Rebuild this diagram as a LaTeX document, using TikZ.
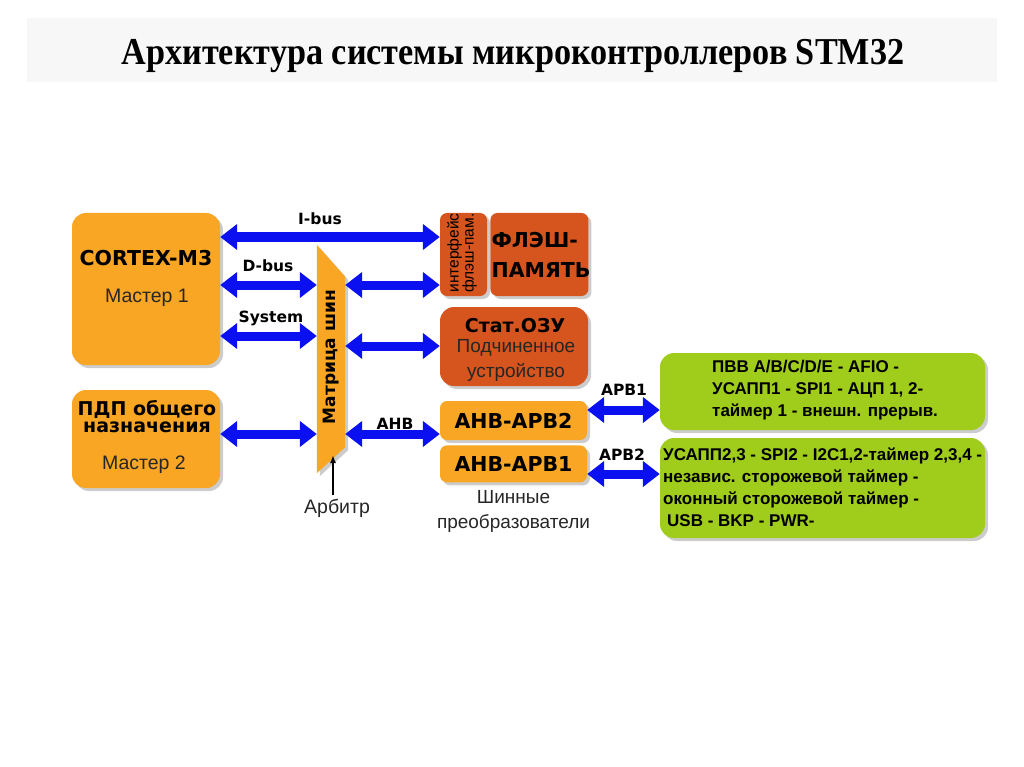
\documentclass[tikz,border=0pt]{standalone}
\usepackage{fontspec}
\setmainfont{Liberation Sans}
\newfontfamily\titlefont[FakeStretch=0.9]{Liberation Serif}
\newfontfamily\heavyfont{DejaVu Sans}
\usetikzlibrary{arrows.meta,positioning,shadows}

\definecolor{boxorange}{RGB}{248,166,36}
\definecolor{boxred}{RGB}{214,84,30}
\definecolor{boxgreen}{RGB}{160,204,28}
\definecolor{busblue}{RGB}{10,16,240}
\definecolor{bandgray}{RGB}{247,247,247}

\begin{document}
\begin{tikzpicture}[
        x=1pt, y=-1pt,
        unitbox/.style={
            rounded corners=14pt,
            inner sep=0pt,
            drop shadow={shadow xshift=3pt, shadow yshift=-3pt, fill=black!40}
        },
        smallbox/.style={unitbox, rounded corners=7pt},
        headtext/.style={font=\heavyfont\bfseries\fontsize{20.5}{20.5}\selectfont},
        roletext/.style={font=\fontsize{19.5}{19.5}\selectfont, text=black!85},
        bustext/.style={font=\heavyfont\bfseries\fontsize{15.5}{15.5}\selectfont},
        periphtext/.style={font=\bfseries\fontsize{17}{22}\selectfont, align=left, anchor=west, inner xsep=0pt},
        bus/.style={{Triangle[length=17pt,width=25pt]}-{Triangle[length=17pt,width=25pt]},
            line width=9pt, busblue}
    ]
    \useasboundingbox (0,0) rectangle (1024,767);

    % title band
    \node[fill=bandgray, minimum width=970pt, minimum height=64pt, inner sep=0pt] (band) at (512,50) {};
    \node[font=\titlefont\bfseries\fontsize{38}{38}\selectfont] (title) at (513,56)
        {Архитектура системы микроконтроллеров STM32};

    % bus rows
    \coordinate (ibus) at (0,237);
    \coordinate (dbus) at (0,285);
    \coordinate (sysbus) at (0,336);
    \coordinate (srambus) at (0,346);
    \coordinate (ahbbus) at (0,434);
    \coordinate (apbone) at (0,410);
    \coordinate (apbtwo) at (0,474);

    % masters
    \node[unitbox, fill=boxorange, minimum width=148pt, minimum height=152pt] (cortex) at (146,289) {};
    \node[headtext] (cortexname) at (146,258) {CORTEX-M3};
    \node[roletext] (cortexrole) at (147,298) {Мастер 1};

    \node[unitbox, fill=boxorange, minimum width=148pt, minimum height=98pt] (dma) at (146,439) {};
    \node[headtext, font=\heavyfont\bfseries\fontsize{19}{17}\selectfont, align=center] (dmaname) at (147,417)
        {ПДП общего\\назначения};
    \node[roletext] (dmarole) at (144,465) {Мастер 2};

    % bus matrix
    \node[minimum width=28pt, minimum height=228pt, inner sep=0pt] (mtx) at (331,359) {};
    \fill[boxorange, drop shadow={shadow xshift=3pt, shadow yshift=-3pt, fill=black!40}]
        (mtx.north west) -- ([yshift=-32pt]mtx.north east) -- ([yshift=26pt]mtx.south east)
        -- (mtx.south west) -- cycle;
    \node[headtext, font=\heavyfont\bfseries\fontsize{17}{17}\selectfont, rotate=90] (mtxname) at (331,357) {Матрица шин};

    % slaves
    \node[smallbox, fill=boxred, minimum width=47pt, minimum height=83pt] (flashif) at (463.5,254.5) {};
    \node[font=\fontsize{15.5}{15}\selectfont, rotate=90, align=center] (flashiftext) at (462,253)
        {интерфейс\\флэш-пам.};
    \node[smallbox, fill=boxred, minimum width=98pt, minimum height=83pt, right=3pt of flashif] (flash) {};
    \node[headtext, font=\heavyfont\bfseries\fontsize{20.5}{30}\selectfont, align=left] (flashname) at (541,255)
        {ФЛЭШ-\\ПАМЯТЬ};
    \node[unitbox, fill=boxred, minimum width=148pt, minimum height=79pt] (sram) at (514,346.5) {};
    \node[headtext, font=\heavyfont\bfseries\fontsize{19}{19}\selectfont] (sramname) at (515,326) {Стат.ОЗУ};
    \node[roletext, align=center, font=\fontsize{19}{25}\selectfont] (sramrole) at (516,360)
        {Подчиненное\\устройство};

    % bridges
    \node[smallbox, fill=boxorange, minimum width=147pt, minimum height=39pt, headtext] (ahbapbtwo) at (513.5,420.5) {AHB-APB2};
    \node[smallbox, fill=boxorange, minimum width=147pt, minimum height=37pt, headtext, below=5pt of ahbapbtwo] (ahbapbone) {AHB-APB1};
    \node[roletext, align=center, font=\fontsize{19}{25}\selectfont, below=4pt of ahbapbone] (bridges)
        {Шинные\\преобразователи};

    % peripherals
    \node[unitbox, fill=boxgreen, minimum width=325pt, minimum height=77pt] (apbperiphone) at (822.5,391.5) {};
    \node[periphtext] (apbperiphonetext) at (712,390)
        {ПВВ A/B/C/D/E - AFIO -\\УСАПП1 - SPI1 - АЦП 1, 2-\\таймер 1 - внешн. прерыв.};
    \node[unitbox, fill=boxgreen, minimum width=325pt, minimum height=100pt] (apbperiphtwo) at (822.5,488) {};
    \node[periphtext] (apbperiphtwotext) at (663,487.5)
        {УСАПП2,3 - SPI2 - I2C1,2-таймер 2,3,4 -\\независ. сторожевой таймер -\\оконный сторожевой таймер -\\\hspace{4pt}USB - BKP - PWR-};

    % buses
    \draw[bus] (cortex.east |- ibus) -- (flashif.west |- ibus);
    \draw[bus] (cortex.east |- dbus) -- (mtx.west |- dbus);
    \draw[bus] (cortex.east |- sysbus) -- (mtx.west |- sysbus);
    \draw[bus] (dma.east |- ahbbus) -- (mtx.west |- ahbbus);
    \draw[bus] (mtx.east |- dbus) -- (flashif.west |- dbus);
    \draw[bus] (mtx.east |- srambus) -- (sram.west |- srambus);
    \draw[bus] (mtx.east |- ahbbus) -- (ahbapbtwo.west |- ahbbus);
    \draw[bus] (ahbapbtwo.east |- apbone) -- (apbperiphone.west |- apbone);
    \draw[bus] (ahbapbone.east |- apbtwo) -- (apbperiphtwo.west |- apbtwo);

    \node[bustext] (ibuslabel) at (320,219) {I-bus};
    \node[bustext] (dbuslabel) at (268,266) {D-bus};
    \node[bustext] (syslabel) at (271,318) {System};
    \node[bustext] (ahblabel) at (395,424) {AHB};
    \node[bustext] (apbonelabel) at (624,390) {APB1};
    \node[bustext] (apbtwolabel) at (622,455) {APB2};

    % arbiter
    \node[roletext] (arbiter) at (337,508) {Арбитр};
    \coordinate (arbtip) at (333,455);
    \draw[-{Latex[length=8pt,width=6pt]}, line width=2pt] (arbtip |- arbiter.north) -- (arbtip);
\end{tikzpicture}
\end{document}
